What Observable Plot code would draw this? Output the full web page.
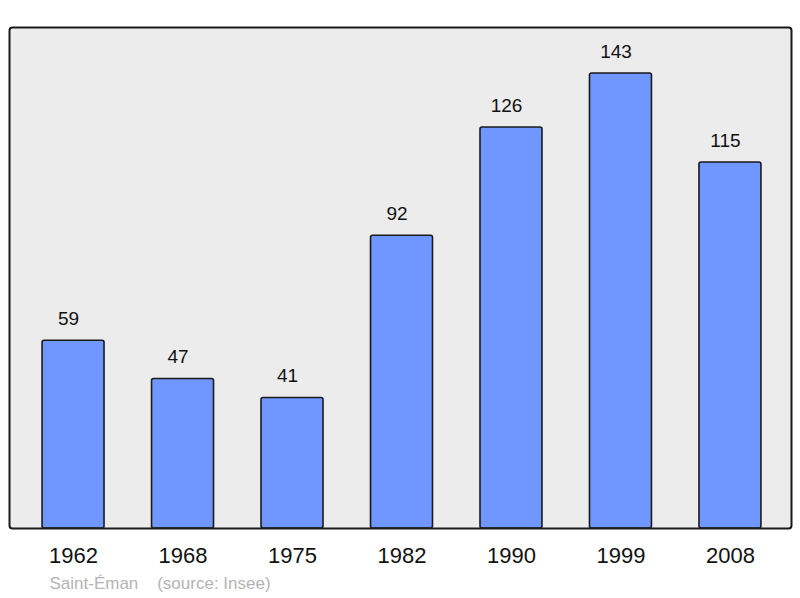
<!DOCTYPE html>
<html>
<head>
<meta charset="utf-8">
<script src="https://cdn.jsdelivr.net/npm/d3@7"></script>
<script src="https://cdn.jsdelivr.net/npm/@observablehq/plot@0.6"></script>
<style>
  html, body { margin: 0; padding: 0; background: #ffffff; }
  #chart svg { display: block; }
</style>
</head>
<body>
<div id="chart"></div>
<script>
const years = ["1962", "1968", "1975", "1982", "1990", "1999", "2008"];
const population = [59, 47, 41, 92, 126, 143, 115];
const placeName = "Saint-Éman";
const sourceText = "(source: Insee)";

const data = years.map((y, i) => ({year: y, value: population[i]}));

const chart = Plot.plot({
  width: 800,
  height: 598,
  marginLeft: 9,
  marginRight: 9,
  marginTop: 27,
  marginBottom: 70,
  style: {fontFamily: "'Liberation Sans', Arial, sans-serif", background: "#ffffff", overflow: "visible"},
  x: {domain: years, paddingInner: 0.434, paddingOuter: 0.217, insetLeft: 9.3, insetRight: 6.3, round: false, label: null},
  y: {domain: [0, 157.45], label: null, axis: null},
  marks: [
    Plot.frame({fill: "#ececec", stroke: "none"}),
    Plot.barY(data, {x: "year", y: "value", fill: "#7097ff", stroke: "#1a1a1a", strokeWidth: 1.6, rx: 2}),
    Plot.text(data, {x: "year", y: "value", text: d => String(d.value), dy: -22, dx: -5, fontSize: 19, fill: "#111"}),
    Plot.frame({stroke: "#1a1a1a", strokeWidth: 2, rx: 3}),
    Plot.axisX({tickSize: 0, tickPadding: 19, fontSize: 22, color: "#111"}),
    Plot.text([placeName + "    " + sourceText], {frameAnchor: "bottom-left", dx: 40, dy: 55, fontSize: 17, fill: "#b4b4b4", textAnchor: "start", lineAnchor: "middle"})
  ]
});
chart.querySelectorAll("text").forEach(t => t.setAttribute("xml:space", "preserve"));
chart.querySelectorAll("text").forEach(t => t.style.whiteSpace = "pre");
document.getElementById("chart").append(chart);
</script>
</body>
</html>
